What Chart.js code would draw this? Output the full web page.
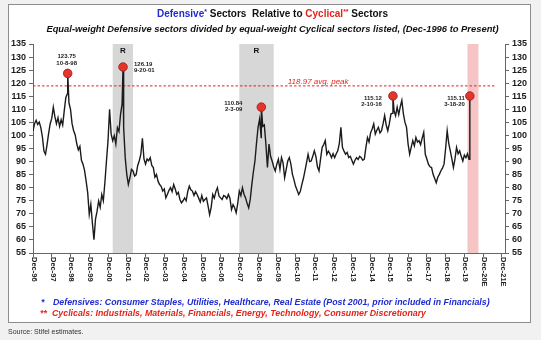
<!DOCTYPE html>
<html>
<head>
<meta charset="utf-8">
<script src="https://cdn.jsdelivr.net/npm/chart.js@4.4.0/dist/chart.umd.min.js"></script>
<style>
  html, body { margin: 0; padding: 0; width: 541px; height: 340px; overflow: hidden; background: #f1f1f1; font-family: "Liberation Sans", Arial, sans-serif; }
  #frame { position: absolute; left: 8px; top: 4px; width: 521px; height: 317px; background: #fff; border: 1px solid #8c8c8c; }
  #chart { position: absolute; left: 0; top: 0; }
  .t { position: absolute; white-space: nowrap; }
  #title { left: 0; width: 545px; top: 8px; text-align: center; font: bold 10px "Liberation Sans", Arial, sans-serif; color: #111; }
  #sub { left: 0; width: 545px; top: 23px; text-align: center; font: italic bold 9.4px "Liberation Sans", Arial, sans-serif; color: #111; }
  .blue { color: #1f2bd0; }
  .red { color: #e3241b; }
  sup { font-size: 7px; vertical-align: 3px; line-height: 0; }
  .note { font: italic bold 8.8px "Liberation Sans", Arial, sans-serif; }
  #src { left: 8px; top: 328px; font: 7px "Liberation Sans", Arial, sans-serif; color: #333; }
</style>
</head>
<body>
<div id="frame"></div>
<canvas id="chart" width="541" height="340"></canvas>
<div class="t" id="title"><span class="blue">Defensive<sup>*</sup></span> Sectors&nbsp; Relative to <span class="red">Cyclical<sup>**</sup></span> Sectors</div>
<div class="t" id="sub">Equal-weight Defensive sectors divided by equal-weight Cyclical sectors listed, (Dec-1996 to Present)</div>
<div class="t note blue" style="left:41px;top:297px;">*</div>
<div class="t note blue" style="left:53px;top:297px;">Defensives: Consumer Staples, Utilities, Healthcare, Real Estate (Post 2001, prior included in Financials)</div>
<div class="t note red" style="left:40px;top:308px;">**</div>
<div class="t note red" style="left:52px;top:308px;">Cyclicals: Industrials, Materials, Financials, Energy, Technology, Consumer Discretionary</div>
<div class="t" id="src">Source: Stifel estimates.</div>

<script>
// Ratio, one reading per month starting Dec-1996 (month 0)
const ratioMonthly = [
  101.8,
  104.5, 105.8, 104.2, 105.1, 103.0, 99.5, 94.0, 92.8, 96.5, 100.8, 104.5, 106.5,   // 1997
  110.8, 107.2, 104.5, 106.8, 103.5, 106.0, 104.0, 109.5, 114.5, 116.0, 112.5, 110.0, // 1998
  104.5, 101.8, 100.2, 96.8, 94.5, 95.8, 90.5, 89.0, 86.5, 82.5, 78.0, 69.8,         // 1999
  73.6, 66.5, 60.1, 68.0, 71.0, 74.9, 72.5, 77.4, 75.0, 82.0, 90.2, 98.0,            // 2000
  110.0, 100.5, 98.0, 99.9, 96.7, 103.0, 101.5, 108.0, 112.0, 103.0, 91.5, 85.1,     // 2001
  81.3, 83.8, 87.0, 86.4, 84.5, 85.0, 88.5, 90.3, 92.8, 98.9, 91.0, 89.0,            // 2002
  91.0, 90.3, 91.5, 88.5, 87.7, 84.0, 85.1, 82.5, 81.2, 80.5, 78.7, 79.5,            // 2003
  76.1, 77.5, 79.0, 80.0, 78.5, 81.2, 79.5, 77.4, 78.2, 75.5, 74.2, 75.0,            // 2004
  76.1, 75.0, 78.5, 80.6, 79.2, 78.7, 77.0, 78.5, 77.4, 76.0, 74.5, 77.0,            // 2005
  74.8, 75.5, 76.1, 73.0, 69.7, 72.5, 77.4, 76.0, 78.5, 80.0, 76.8, 76.1,            // 2006
  75.5, 77.0, 76.7, 75.8, 77.4, 76.0, 71.6, 73.5, 72.3, 70.4, 74.0, 78.7,            // 2007
  77.0, 80.0, 77.5, 76.1, 74.0, 72.3, 75.5, 81.2, 86.0, 90.2, 97.0, 103.1,           // 2008
  106.3, 99.2, 103.5, 104.0, 96.7, 87.7, 96.7, 92.0, 90.2, 88.0, 86.4, 89.0,         // 2009
  90.9, 87.0, 91.5, 89.5, 83.8, 87.0, 90.2, 91.5, 89.0, 85.1, 83.0, 80.5,            // 2010
  79.0, 77.4, 78.5, 81.2, 83.5, 86.4, 89.5, 92.8, 90.0, 90.2, 92.0, 94.1,            // 2011
  92.0, 88.0, 86.4, 91.0, 95.4, 96.5, 98.0, 92.8, 94.0, 93.0, 91.5, 93.0,            // 2012
  91.5, 93.0, 94.1, 97.0, 103.1, 95.4, 94.0, 92.8, 93.5, 91.5, 92.0, 90.5,           // 2013
  89.0, 90.5, 91.5, 90.8, 92.0, 91.5, 90.5, 90.9, 95.4, 99.2, 97.5, 101.0,           // 2014
  102.5, 104.4, 100.5, 102.0, 103.1, 101.0, 101.8, 104.5, 107.6, 104.0, 101.8, 104.5, // 2015
  108.2, 108.5, 109.5, 107.5, 110.8, 108.0, 111.0, 113.4, 108.2, 105.0, 103.1, 96.7, // 2016
  92.8, 95.5, 98.0, 96.0, 99.2, 97.5, 98.0, 96.5, 99.0, 101.2, 92.8, 91.0,           // 2017
  89.0, 88.0, 87.7, 85.1, 83.5, 81.9, 84.0, 85.1, 86.5, 87.5, 89.0, 95.0,            // 2018
  101.8, 97.0, 94.1, 91.0, 87.7, 91.0, 95.4, 93.0, 94.1, 92.0, 90.2, 92.5,           // 2019
  91.5, 93.0, 90.9                                                                   // 2020
];

// Marked peaks (month offset from Dec-96)
const peakMonths = [22.2, 57.6, 146.1, 230.3, 279.5];
const peakValues = [123.75, 126.19, 110.84, 115.12, 115.11];
const peakDates = ["10-8-98", "9-20-01", "2-3-09", "2-10-16", "3-18-20"];

const avgPeak = 118.97;
const avgPeakEnd = 296;

const yearLabels = [
  "Dec-96", "Dec-97", "Dec-98", "Dec-99", "Dec-00", "Dec-01", "Dec-02", "Dec-03", "Dec-04",
  "Dec-05", "Dec-06", "Dec-07", "Dec-08", "Dec-09", "Dec-10", "Dec-11", "Dec-12", "Dec-13",
  "Dec-14", "Dec-15", "Dec-16", "Dec-17", "Dec-18", "Dec-19", "Dec-20E", "Dec-21E"
];

// Recession shading (months from Dec-96)
const recessions = [[51, 64], [132, 154]];
const covidBand = [278, 285];

// ---- build series ----
const seriesPts = ratioMonthly.map((v, i) => ({ x: i, y: v }));
peakMonths.forEach((m, i) => seriesPts.push({ x: m, y: peakValues[i] }));
seriesPts.sort((a, b) => a.x - b.x);

const FONT = '"Liberation Sans", Arial, sans-serif';

// label offsets from each dot: [dx, dy, align]
const peakLabelStyle = [
  [-1, -17, "center"],
  [11, -3, "left"],
  [-19, -4, "right"],
  [-11, 2, "right"],
  [-5, 2, "right"],
];

const overlay = {
  id: "overlay",
  beforeDatasetsDraw(chart) {
    const { ctx, chartArea: a, scales: { x } } = chart;
    ctx.save();
    ctx.fillStyle = "#d7d7d7";
    recessions.forEach((r) => {
      const x0 = x.getPixelForValue(r[0]);
      const x1 = x.getPixelForValue(r[1]);
      ctx.fillRect(x0, a.top, x1 - x0, a.bottom - a.top);
    });
    ctx.fillStyle = "#f5c4c4";
    const c0 = x.getPixelForValue(covidBand[0]);
    const c1 = x.getPixelForValue(covidBand[1]);
    ctx.fillRect(c0, a.top, c1 - c0, a.bottom - a.top);

    ctx.fillStyle = "#111";
    ctx.font = "bold 8px " + FONT;
    ctx.textAlign = "center";
    ctx.textBaseline = "middle";
    recessions.forEach((r) => {
      ctx.fillText("R", (x.getPixelForValue(r[0]) + x.getPixelForValue(r[1])) / 2, a.top + 7);
    });
    ctx.restore();
  },
  afterDatasetsDraw(chart) {
    const { ctx, chartArea: a, scales: { x, y } } = chart;
    ctx.save();

    // avg peak label
    ctx.fillStyle = "#e3241b";
    ctx.font = "italic 8px " + FONT;
    ctx.textAlign = "left";
    ctx.textBaseline = "alphabetic";
    ctx.fillText(avgPeak.toFixed(2) + " avg. peak", x.getPixelForValue(163), y.getPixelForValue(avgPeak) - 1.5);

    // peak labels
    ctx.fillStyle = "#222";
    ctx.font = "bold 6px " + FONT;
    ctx.textBaseline = "middle";
    peakMonths.forEach((m, i) => {
      const px = x.getPixelForValue(m);
      const py = y.getPixelForValue(peakValues[i]);
      const [dx, dy, al] = peakLabelStyle[i];
      ctx.textAlign = al;
      ctx.fillText(peakValues[i].toFixed(2), px + dx, py + dy);
      ctx.fillText(peakDates[i], px + dx, py + dy + 6.5);
    });

    // rotated year labels
    ctx.fillStyle = "#222";
    ctx.font = "bold 7.5px " + FONT;
    ctx.textAlign = "left";
    ctx.textBaseline = "middle";
    yearLabels.forEach((lab, i) => {
      ctx.save();
      ctx.translate(x.getPixelForValue(i * 12) + 1, a.bottom + 4);
      ctx.rotate(Math.PI / 2);
      ctx.fillText(lab, 0, 0);
      ctx.restore();
    });
    ctx.restore();
  },
};

const yAxis = (pos, w) => ({
  position: pos,
  min: 55,
  max: 135,
  ticks: { stepSize: 5, autoSkip: false, color: "#1a1a1a", padding: 3, font: { family: FONT, size: 9, weight: "bold" } },
  grid: { drawOnChartArea: false, tickLength: 4, color: "#666" },
  border: { color: "#666" },
  afterFit: (s) => { s.width = w; },
});

new Chart(document.getElementById("chart"), {
  type: "line",
  data: {
    datasets: [
      {
        data: [{ x: 0, y: avgPeak }, { x: avgPeakEnd, y: avgPeak }],
        borderColor: "#e3241b",
        borderWidth: 1,
        borderDash: [2.5, 2],
        pointRadius: 0,
        order: 3,
      },
      {
        data: seriesPts,
        borderColor: "#1b1b1b",
        borderWidth: 1.4,
        pointRadius: 0,
        tension: 0,
        order: 2,
      },
      {
        data: peakMonths.map((m, i) => ({ x: m, y: peakValues[i] })),
        showLine: false,
        pointRadius: 4.3,
        pointBackgroundColor: "#e3352b",
        pointBorderColor: "#9e1a12",
        pointBorderWidth: 0.8,
        order: 1,
      },
    ],
  },
  options: {
    responsive: false,
    animation: false,
    layout: { padding: { top: 44, left: 0, right: 0, bottom: 0 } },
    plugins: { legend: { display: false }, tooltip: { enabled: false } },
    scales: {
      x: {
        type: "linear",
        min: 0,
        max: 302,
        ticks: { display: false },
        afterBuildTicks: (s) => { s.ticks = yearLabels.map((_, i) => ({ value: i * 12 })); },
        afterFit: (s) => { s.height = 87; },
        grid: { drawOnChartArea: false, tickLength: 4, color: "#666" },
        border: { color: "#666" },
      },
      y: yAxis("left", 33),
      y2: yAxis("right", 36),
    },
  },
  plugins: [overlay],
});
</script>
</body>
</html>
